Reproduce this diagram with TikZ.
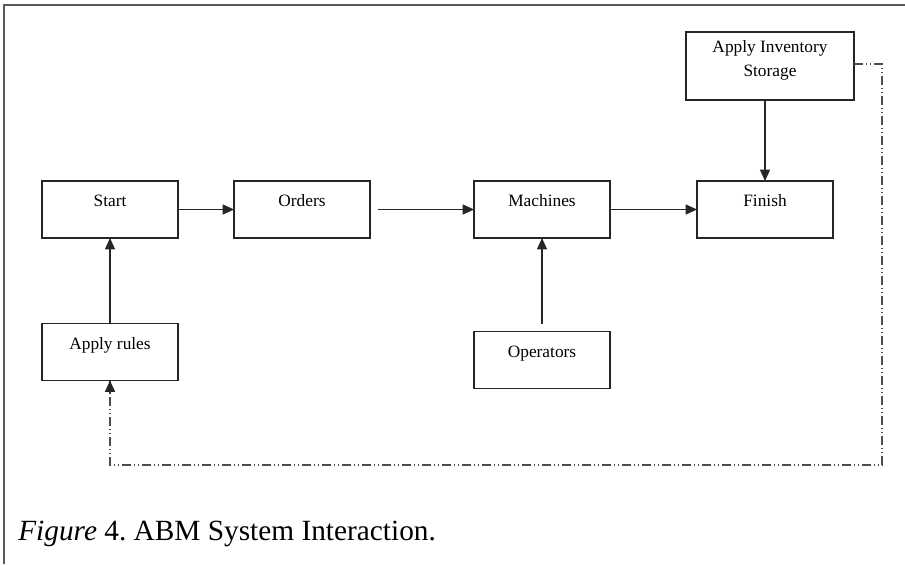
\documentclass[tikz,border=0pt]{standalone}
\usepackage{fontspec}
\setmainfont{Liberation Serif}
\usetikzlibrary{arrows.meta,calc}
\begin{document}
\begin{tikzpicture}[x=0.75pt,y=-0.75pt,
  box/.style={draw=black!85, line width=0.9pt, rectangle, outer sep=0pt, inner sep=0pt,
    minimum width=102pt, minimum height=42.75pt, font=\fontsize{13}{18}\selectfont,
    text height=9pt, text depth=13pt, align=center},
  tip/.style={-{Triangle[length=8.5pt,width=7.5pt]}},
  arr/.style={draw=black!85, line width=0.9pt, tip},
  fb/.style={draw=black!70, line width=0.9pt, dash pattern=on 7pt off 2pt on 1pt off 2pt on 1pt off 2pt},
  frame/.style={draw=black!65, line width=1.1pt}]
\useasboundingbox (0,0) rectangle (905,564);
\draw[frame] (4,564) -- (4,5) -- (905,5);
\node[box] (start) at (110,209.5) {Start};
\node[box] (orders) at (302,209.5) {Orders};
\node[box] (mach) at (542,209.5) {Machines};
\node[box] (fin) at (765,209.5) {Finish};
\node[box] (rules) at (110,352) {Apply rules};
\node[box] (ops) at (542,360) {Operators};
\node[box, minimum width=126pt, minimum height=51pt, text height=22pt, text depth=6pt] (inv) at (770,66) {Apply Inventory\\Storage};
\draw[arr] (start) -- (orders);
\draw[arr, shorten <=6pt] (orders) -- (mach);
\draw[arr] (mach) -- (fin);
\draw[arr] (rules) -- (start);
\draw[arr, shorten <=6pt] (ops) -- (mach);
\draw[arr] (inv.south -| fin.north) -- (fin.north);
\coordinate (c1) at (882,64);
\coordinate (c2) at (882,465);
\coordinate (c3) at (110,465);
\draw[fb] (854,64) -- (c1) -- (c2) -- (c3) -- (rules.south);
\draw[arr] ($(rules.south)+(0,12)$) -- (rules.south);
\node[anchor=base west, inner sep=0pt, font=\fontsize{22}{24}\selectfont] (cap) at (18,540) {\frenchspacing\textit{Figure} 4. ABM System Interaction.};
\end{tikzpicture}
\end{document}
